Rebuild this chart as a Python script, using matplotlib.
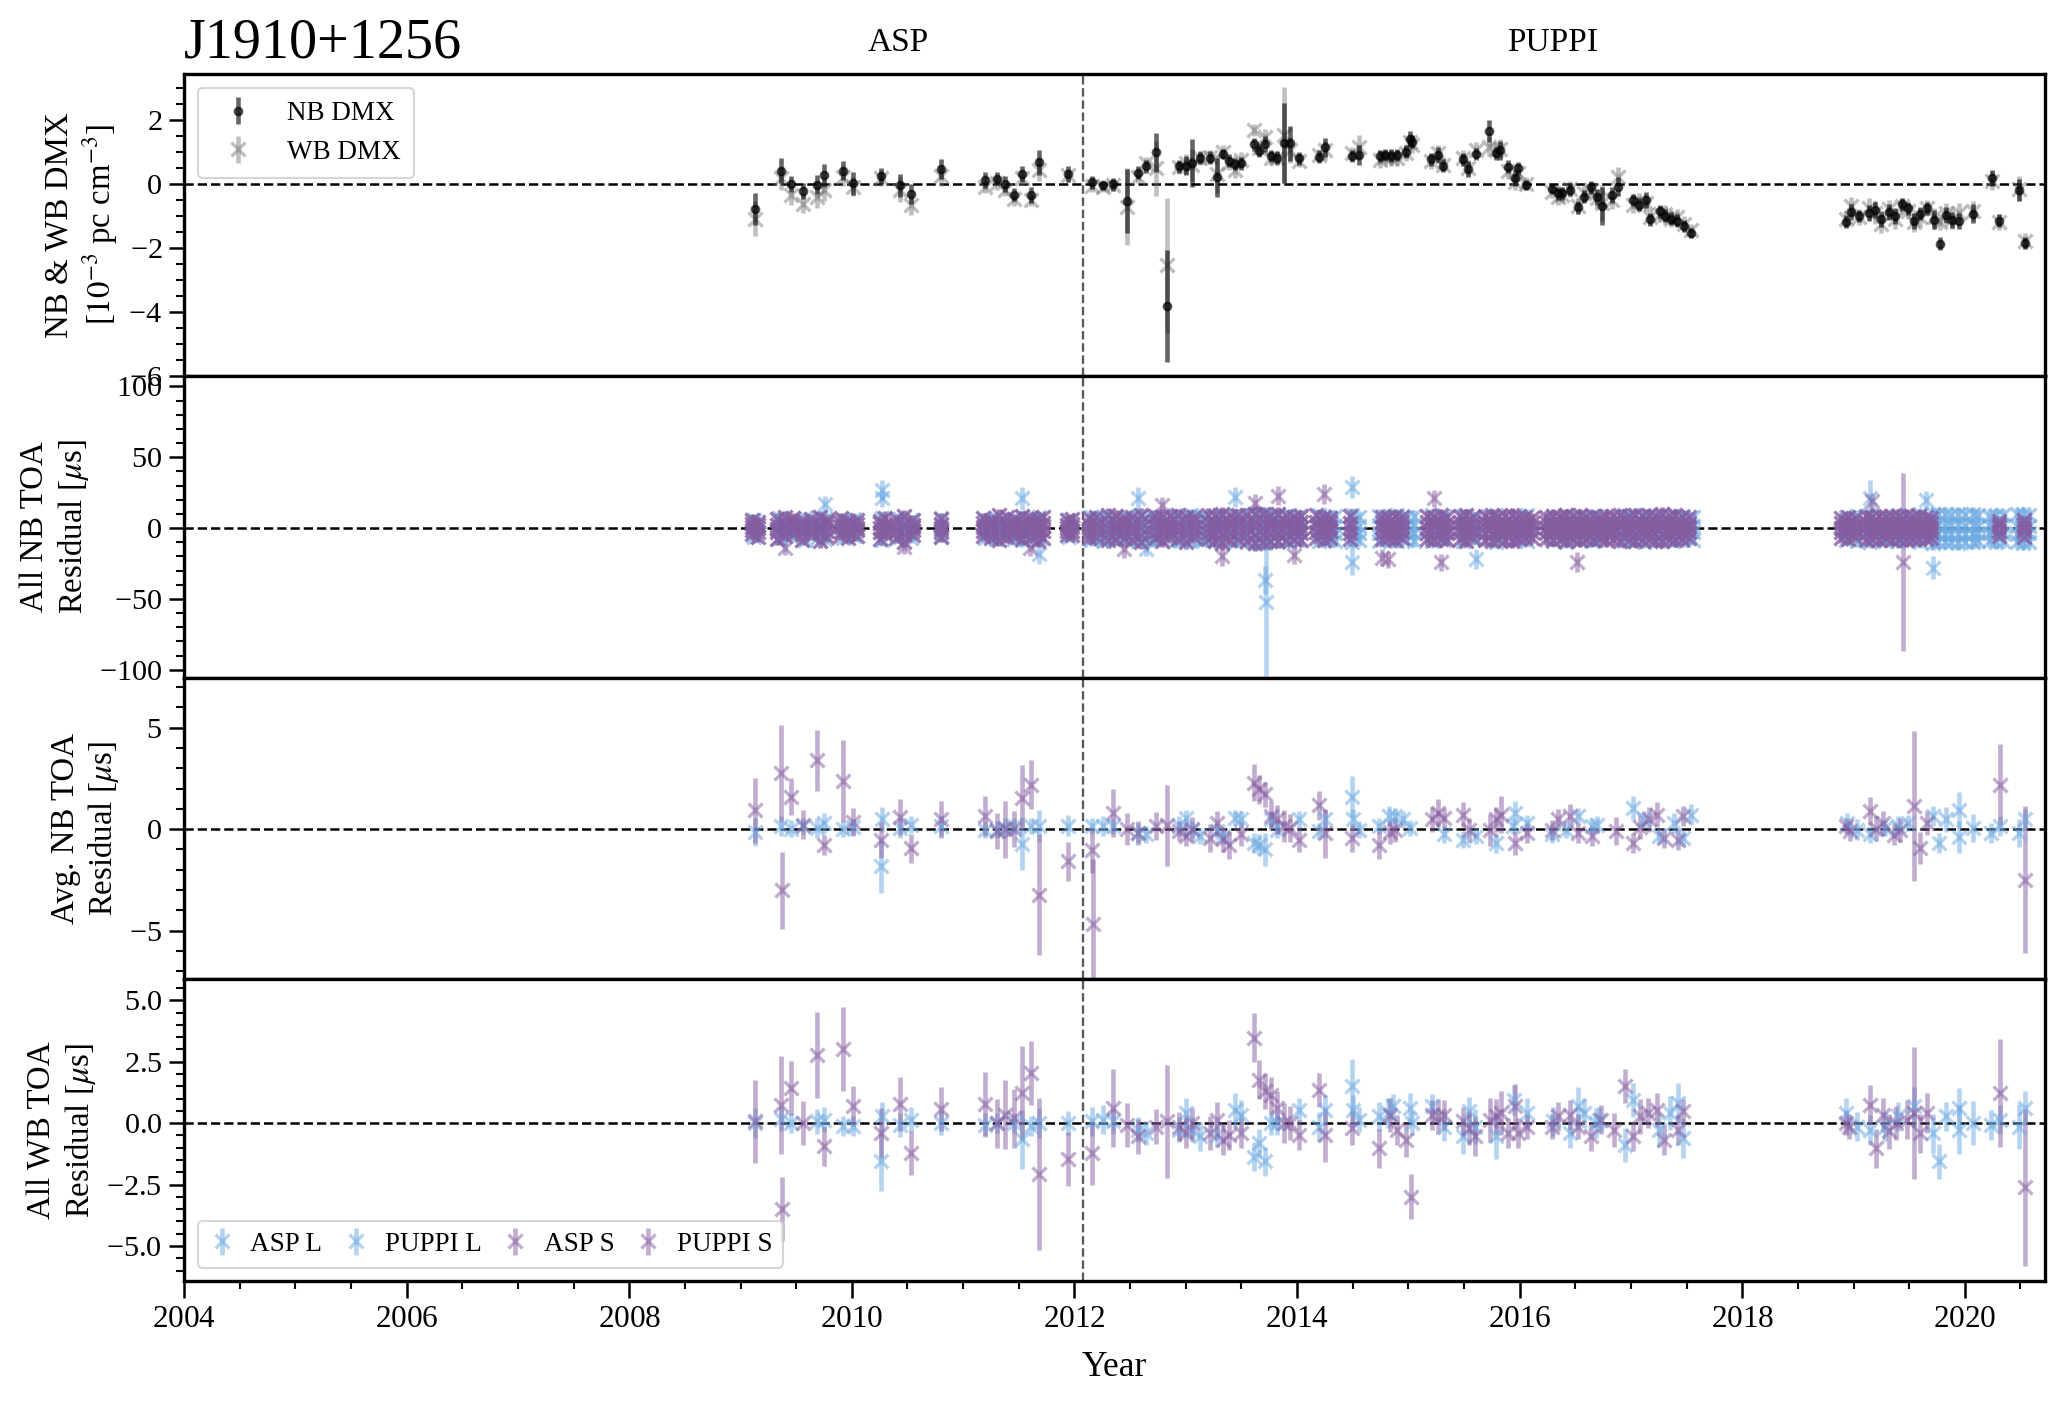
"""
Timing residual summary for J1910+1256: DMX, all NB TOAs, epoch-averaged NB TOAs, WB TOAs.
"""

import numpy as np
import matplotlib
matplotlib.use("Agg")
import matplotlib.pyplot as plt
from matplotlib.ticker import AutoMinorLocator, MultipleLocator

PSR = "J1910+1256"
PUPPI_START = 2012.08   # ASP -> PUPPI switch
L_COLOR = "#6BA9E2"
S_COLOR = "#855CA0"

# ---- DMX (1e-3 pc cm^-3) ----
dmx_yr = [2009.133, 2009.366, 2009.450, 2009.563, 2009.691, 2009.747, 2009.924, 2010.012, 2010.265, 2010.429,
          2010.529, 2010.802, 2011.199, 2011.308, 2011.372, 2011.456, 2011.528, 2011.608, 2011.684, 2011.945,
          2012.162, 2012.254, 2012.346, 2012.475, 2012.571, 2012.643, 2012.731, 2012.828, 2012.944, 2013.004,
          2013.060, 2013.125, 2013.221, 2013.277, 2013.333, 2013.389, 2013.441, 2013.494, 2013.610, 2013.654,
          2013.710, 2013.762, 2013.822, 2013.879, 2013.935, 2014.015, 2014.200, 2014.248, 2014.492, 2014.557,
          2014.746, 2014.790, 2014.842, 2014.899, 2014.978, 2015.013, 2015.031, 2015.206, 2015.263, 2015.316,
          2015.491, 2015.539, 2015.609, 2015.723, 2015.785, 2015.828, 2015.899, 2015.960, 2015.986, 2016.061,
          2016.289, 2016.346, 2016.381, 2016.455, 2016.521, 2016.578, 2016.639, 2016.696, 2016.744, 2016.827,
          2016.880, 2017.016, 2017.077, 2017.134, 2017.169, 2017.257, 2017.310, 2017.362, 2017.415, 2017.476,
          2017.537, 2018.931, 2018.975, 2019.045, 2019.141, 2019.194, 2019.251, 2019.317, 2019.369, 2019.435,
          2019.487, 2019.540, 2019.601, 2019.658, 2019.720, 2019.776, 2019.829, 2019.882, 2019.947, 2020.070,
          2020.245, 2020.311, 2020.491, 2020.539]
dmx_nb = [-0.80, 0.41, -0.01, -0.22, -0.03, 0.26, 0.41, 0.01, 0.24, -0.05,
          -0.32, 0.46, 0.13, 0.16, -0.02, -0.34, 0.30, -0.34, 0.67, 0.32,
          0.04, -0.05, -0.02, -0.55, 0.34, 0.55, 0.98, -3.81, 0.54, 0.56,
          0.64, 0.82, 0.81, 0.20, 0.93, 0.72, 0.62, 0.64, 1.23, 1.03,
          1.24, 0.87, 0.82, 1.26, 1.26, 0.79, 0.85, 1.14, 0.87, 0.90,
          0.87, 0.90, 0.88, 0.90, 1.00, 1.39, 1.32, 0.76, 0.90, 0.57,
          0.76, 0.45, 0.93, 1.65, 0.95, 1.05, 0.53, 0.19, 0.48, -0.04,
          -0.15, -0.30, -0.30, -0.18, -0.74, -0.41, -0.11, -0.41, -0.69, -0.35,
          -0.09, -0.51, -0.65, -0.51, -1.11, -0.86, -1.00, -1.09, -1.16, -1.32,
          -1.53, -1.19, -0.88, -1.01, -0.91, -0.82, -1.09, -0.88, -1.01, -0.64,
          -0.77, -1.16, -0.93, -0.77, -1.12, -1.87, -0.98, -1.14, -1.16, -0.93,
          0.17, -1.16, -0.20, -1.85]
dmx_nb_err = [0.50, 0.40, 0.25, 0.25, 0.30, 0.35, 0.30, 0.35, 0.25, 0.35,
              0.30, 0.30, 0.25, 0.20, 0.25, 0.20, 0.25, 0.25, 0.40, 0.25,
              0.20, 0.15, 0.20, 1.00, 0.20, 0.20, 0.60, 1.75, 0.20, 0.30,
              0.75, 0.20, 0.20, 0.60, 0.15, 0.20, 0.20, 0.20, 0.20, 0.20,
              0.25, 0.20, 0.20, 1.25, 0.55, 0.20, 0.20, 0.30, 0.20, 0.30,
              0.20, 0.20, 0.20, 0.20, 0.20, 0.25, 0.20, 0.20, 0.25, 0.20,
              0.20, 0.25, 0.20, 0.35, 0.20, 0.30, 0.20, 0.25, 0.20, 0.15,
              0.15, 0.20, 0.20, 0.20, 0.20, 0.20, 0.20, 0.25, 0.60, 0.25,
              0.30, 0.20, 0.20, 0.25, 0.20, 0.20, 0.20, 0.20, 0.20, 0.20,
              0.15, 0.20, 0.25, 0.20, 0.25, 0.25, 0.25, 0.25, 0.25, 0.20,
              0.20, 0.25, 0.20, 0.20, 0.30, 0.20, 0.25, 0.25, 0.25, 0.30,
              0.25, 0.20, 0.35, 0.20]
dmx_wb = [-1.09, 0.17, -0.35, -0.62, -0.41, -0.20, 0.22, -0.09, 0.17, -0.18,
          -0.67, 0.24, -0.09, 0.01, -0.18, -0.48, 0.17, -0.51, 0.43, 0.27,
          -0.07, -0.11, -0.04, -0.72, 0.22, 0.64, 0.48, -2.55, 0.51, 0.64,
          0.58, 0.79, 0.85, 0.32, 1.00, 0.64, 0.43, 0.74, 1.68, 1.11,
          1.47, 0.79, 0.79, 1.52, 1.05, 0.72, 0.90, 1.05, 0.95, 1.16,
          0.74, 0.85, 0.80, 0.82, 0.95, 1.30, 1.20, 0.70, 0.95, 0.60,
          0.80, 0.50, 1.05, 1.16, 1.05, 1.10, 0.40, 0.05, 0.35, 0.00,
          -0.25, -0.40, -0.35, -0.15, -0.70, -0.30, -0.20, -0.45, -0.60, -0.50,
          0.22, -0.65, -0.55, -0.60, -1.05, -0.95, -0.95, -1.10, -1.05, -1.25,
          -1.45, -1.10, -0.70, -1.05, -0.75, -0.90, -1.25, -0.80, -1.10, -0.70,
          -0.85, -1.20, -1.05, -0.75, -1.05, -1.20, -0.90, -1.10, -0.90, -0.85,
          0.10, -1.20, -0.15, -1.80]
dmx_wb_err = [0.55, 0.35, 0.30, 0.30, 0.35, 0.35, 0.30, 0.30, 0.25, 0.40,
              0.30, 0.30, 0.20, 0.20, 0.20, 0.20, 0.20, 0.20, 0.35, 0.20,
              0.20, 0.15, 0.20, 1.20, 0.20, 0.20, 0.85, 2.10, 0.20, 0.30,
              0.50, 0.20, 0.20, 0.60, 0.20, 0.20, 0.25, 0.25, 0.20, 0.20,
              0.25, 0.20, 0.20, 1.50, 0.40, 0.20, 0.20, 0.30, 0.20, 0.35,
              0.25, 0.20, 0.25, 0.25, 0.25, 0.25, 0.25, 0.25, 0.25, 0.20,
              0.25, 0.25, 0.25, 0.30, 0.25, 0.30, 0.25, 0.25, 0.25, 0.20,
              0.20, 0.25, 0.25, 0.25, 0.25, 0.25, 0.25, 0.30, 0.55, 0.30,
              0.30, 0.25, 0.25, 0.25, 0.25, 0.25, 0.30, 0.25, 0.25, 0.25,
              0.20, 0.25, 0.30, 0.25, 0.30, 0.35, 0.30, 0.30, 0.30, 0.25,
              0.25, 0.30, 0.30, 0.25, 0.30, 0.25, 0.30, 0.30, 0.30, 0.30,
              0.30, 0.25, 0.40, 0.25]

# ---- All NB TOA residuals (us): one row of residuals per observing epoch ----
nb_s_yr = [2009.10, 2009.16, 2009.33, 2009.40, 2009.47, 2009.55, 2009.63, 2009.71, 2009.78, 2009.90,
           2009.97, 2010.05, 2010.25, 2010.30, 2010.40, 2010.47, 2010.55, 2010.80, 2011.18, 2011.25,
           2011.32, 2011.39, 2011.46, 2011.53, 2011.60, 2011.67, 2011.72, 2011.93, 2011.98, 2012.13,
           2012.19, 2012.30, 2012.37, 2012.45, 2012.52, 2012.60, 2012.72, 2012.79, 2012.86, 2012.93,
           2013.00, 2013.07, 2013.20, 2013.26, 2013.33, 2013.40, 2013.47, 2013.55, 2013.62, 2013.69,
           2013.76, 2013.83, 2013.90, 2013.97, 2014.04, 2014.17, 2014.24, 2014.30, 2014.48, 2014.76,
           2014.82, 2014.88, 2014.94, 2015.17, 2015.23, 2015.29, 2015.35, 2015.46, 2015.52, 2015.58,
           2015.69, 2015.75, 2015.81, 2015.87, 2015.93, 2015.99, 2016.05, 2016.11, 2016.24, 2016.30,
           2016.36, 2016.42, 2016.48, 2016.54, 2016.60, 2016.66, 2016.72, 2016.78, 2016.84, 2016.90,
           2016.98, 2017.04, 2017.10, 2017.16, 2017.22, 2017.28, 2017.34, 2017.40, 2017.46, 2017.52,
           2018.89, 2018.95, 2019.01, 2019.11, 2019.17, 2019.23, 2019.29, 2019.35, 2019.41, 2019.47,
           2019.53, 2019.59, 2019.65, 2019.70, 2020.31, 2020.53]
nb_s_rows = [
    [-4.2, -1.5, 0.6, 2.9, 5.8], [-6.3, -2.8, 0.2, 1.9, 4.4], [-7.5, -3.1, -0.4, 2.2, 6.1], [-5.4, -1.2, 1.3, 3.8, 8.0],
    [-3.9, -0.8, 0.9, 4.6, 7.2], [-8.1, -4.0, -1.1, 2.5, 5.1], [-5.0, -2.2, 0.3, 3.1, 6.6], [-9.2, -3.6, 0.1, 2.7, 7.9],
    [-6.0, -1.9, 1.5, 4.0, 5.7], [-4.8, -2.6, 0.7, 3.3, 6.8], [-7.0, -3.4, -0.6, 1.8, 4.9], [-5.6, -1.1, 0.4, 2.6, 6.0],
    [-7.8, -2.9, 0.0, 3.5, 5.3], [-4.5, -1.7, 1.1, 2.4, 7.4], [-6.7, -3.0, -0.3, 2.8, 6.3], [-9.6, -4.3, 0.5, 3.6, 8.8],
    [-5.2, -1.4, 0.8, 2.1, 5.5], [-6.1, -2.5, 0.2, 3.0, 6.4], [-5.9, -2.0, 1.0, 3.9, 6.9], [-7.3, -3.3, -0.2, 2.3, 5.6],
    [-8.4, -4.1, 0.6, 4.4, 9.1], [-6.5, -1.6, 1.4, 3.2, 7.7], [-5.3, -2.7, 0.1, 2.9, 6.2], [-7.9, -3.8, -0.5, 3.4, 8.3],
    [-6.2, -2.1, 0.9, 4.1, 7.0], [-9.0, -3.5, 0.3, 2.6, 6.7], [-6.8, -2.4, 1.2, 3.7, 7.5], [-5.1, -1.8, 0.4, 2.2, 5.4],
    [-4.6, -2.0, 0.7, 3.0, 6.1], [-7.2, -3.2, -0.1, 2.7, 6.8], [-6.4, -2.3, 0.9, 3.6, 7.9], [-8.7, -4.4, 0.2, 4.5, 9.4],
    [-7.6, -3.0, 0.6, 3.3, 8.6], [-6.9, -2.6, 1.0, 4.2, 7.3], [-8.2, -3.7, -0.3, 3.1, 8.0], [-9.5, -4.6, 0.0, 4.0, 9.0],
    [-7.1, -2.8, 1.3, 4.7, 8.5], [-8.9, -3.9, 0.4, 3.8, 7.6], [-6.6, -3.1, 0.8, 4.3, 8.8], [-7.4, -2.2, 1.1, 3.5, 9.2],
    [-9.8, -4.2, -0.4, 3.9, 7.8], [-6.3, -2.5, 0.5, 4.8, 8.1], [-8.0, -3.6, 0.2, 4.1, 9.5], [-9.1, -4.0, 0.7, 3.4, 8.4],
    [-10.2, -4.8, -0.2, 4.6, 9.7], [-8.6, -3.3, 0.9, 4.4, 8.7], [-7.7, -2.9, 1.4, 5.0, 9.3], [-9.4, -4.5, 0.1, 3.7, 8.9],
    [-10.5, -5.0, 0.6, 5.2, 10.1], [-9.9, -4.1, 0.3, 4.9, 9.6], [-8.8, -3.7, 1.0, 4.3, 8.2], [-9.3, -4.3, -0.1, 4.0, 9.9],
    [-8.1, -3.4, 0.8, 4.5, 8.6], [-7.5, -3.0, 0.4, 3.9, 7.7], [-8.5, -3.8, 0.0, 4.2, 8.3], [-7.0, -2.7, 1.2, 4.6, 9.0],
    [-8.3, -3.5, 0.5, 3.6, 8.1], [-6.9, -2.4, 0.9, 4.1, 7.4], [-7.8, -3.2, 0.2, 3.8, 8.7], [-8.0, -3.6, 0.6, 4.4, 8.0],
    [-7.2, -2.9, 1.0, 3.7, 7.6], [-8.6, -4.0, -0.3, 3.5, 8.4], [-6.8, -2.6, 0.7, 4.0, 7.9], [-7.9, -3.3, 0.3, 4.3, 8.5],
    [-8.7, -3.9, 0.8, 3.9, 7.8], [-7.4, -2.8, 1.1, 4.7, 8.9], [-8.2, -3.4, 0.0, 3.6, 7.5], [-7.6, -3.1, 0.5, 4.1, 8.2],
    [-8.9, -4.2, 0.9, 4.5, 9.1], [-7.1, -2.5, 0.2, 3.8, 7.7], [-8.4, -3.7, 0.6, 4.2, 8.6], [-9.0, -4.1, 1.0, 4.8, 9.3],
    [-7.7, -3.0, 0.1, 3.9, 8.0], [-8.5, -3.6, 0.7, 4.4, 8.8], [-9.2, -4.4, 0.4, 4.0, 9.5], [-8.0, -3.2, 0.9, 4.6, 8.3],
    [-7.3, -2.7, 0.3, 3.7, 7.6], [-6.9, -2.9, 0.6, 3.4, 7.2], [-7.8, -3.3, 0.2, 4.0, 8.1], [-8.3, -3.8, 0.8, 4.3, 8.7],
    [-7.5, -3.0, 0.4, 3.9, 7.9], [-8.8, -4.0, 1.0, 4.7, 9.0], [-7.9, -3.5, 0.0, 4.1, 8.4], [-8.6, -3.9, 0.7, 4.5, 8.9],
    [-7.4, -2.8, 0.5, 3.6, 7.8], [-8.1, -3.4, 0.9, 4.2, 8.5], [-7.0, -2.6, 0.3, 3.8, 7.4], [-8.7, -4.1, 0.6, 4.4, 8.8],
    [-7.6, -3.1, 0.1, 4.0, 8.2], [-8.9, -4.3, 0.8, 4.9, 9.2], [-8.2, -3.6, 0.4, 4.3, 8.6], [-9.1, -4.0, 0.9, 4.6, 9.4],
    [-8.4, -3.7, 0.2, 4.1, 8.7], [-7.7, -3.2, 0.7, 4.5, 9.0], [-8.8, -3.9, 0.5, 4.2, 8.3], [-9.3, -4.2, 1.1, 4.8, 9.6],
    [-8.0, -3.5, 0.3, 4.0, 8.5], [-8.6, -3.8, 0.8, 4.4, 8.9], [-7.9, -3.3, 0.4, 3.9, 8.1], [-7.2, -2.9, 0.6, 3.6, 7.5],
    [-6.8, -2.5, 0.4, 3.3, 7.0], [-7.5, -3.0, 0.7, 3.8, 7.6], [-6.4, -2.7, 0.2, 3.4, 6.9], [-8.1, -3.6, 0.9, 4.2, 8.4],
    [-7.7, -3.2, 0.3, 3.9, 7.9], [-8.5, -3.8, 0.6, 4.4, 8.7], [-7.3, -2.9, 0.1, 3.7, 7.8], [-8.3, -3.5, 0.8, 4.1, 8.2],
    [-7.9, -3.4, 0.5, 4.0, 8.6], [-8.7, -4.0, 0.2, 4.5, 8.9], [-7.6, -3.1, 0.7, 3.8, 8.0], [-8.0, -3.3, 0.4, 4.2, 8.3],
    [-7.4, -3.0, 0.9, 3.6, 7.7], [-6.9, -2.6, 0.3, 3.3, 7.1], [-5.8, -2.1, 0.5, 2.8, 4.9], [-6.2, -2.4, 0.1, 3.0, 5.5],
]
nb_s_err = [4.0, 3.5, 4.5, 4.0, 3.5, 4.0, 3.5, 4.5, 4.0, 3.5,
            4.0, 3.5, 4.0, 4.5, 3.5, 4.0, 3.5, 4.0, 3.5, 4.0,
            4.5, 4.0, 3.5, 4.0, 4.5, 4.0, 3.5, 3.5, 4.0, 4.0,
            4.5, 5.0, 4.5, 4.0, 4.5, 5.0, 4.5, 4.5, 4.0, 4.5,
            5.0, 4.5, 5.0, 4.5, 5.5, 5.0, 4.5, 5.0, 5.5, 5.0,
            4.5, 5.0, 4.5, 4.0, 4.5, 4.0, 4.5, 4.0, 4.5, 4.5,
            4.0, 4.5, 4.0, 4.5, 4.0, 4.5, 4.0, 4.5, 4.5, 4.0,
            4.5, 4.5, 4.0, 4.5, 4.5, 4.0, 4.0, 3.5, 4.0, 4.5,
            4.0, 4.5, 4.0, 4.5, 4.0, 4.5, 4.0, 4.5, 4.0, 4.5,
            4.5, 4.5, 4.0, 4.5, 4.5, 5.0, 4.0, 4.5, 4.0, 4.0,
            3.5, 4.0, 3.5, 4.5, 4.0, 4.5, 4.0, 4.5, 4.0, 4.5,
            4.0, 4.5, 4.0, 3.5, 3.5, 3.5]

nb_l_yr = [2009.12, 2009.35, 2009.45, 2009.58, 2009.70, 2009.76, 2009.92, 2010.02, 2010.27, 2010.43,
           2010.53, 2010.80, 2011.20, 2011.30, 2011.38, 2011.46, 2011.53, 2011.61, 2011.68, 2011.95,
           2012.15, 2012.22, 2012.27, 2012.35, 2012.47, 2012.57, 2012.64, 2012.70, 2012.78, 2012.90,
           2012.96, 2013.05, 2013.13, 2013.17, 2013.26, 2013.33, 2013.44, 2013.50, 2013.61, 2013.65,
           2013.71, 2013.76, 2013.82, 2013.93, 2014.02, 2014.20, 2014.27, 2014.34, 2014.49, 2014.56,
           2014.74, 2014.83, 2014.90, 2014.98, 2015.05, 2015.21, 2015.32, 2015.49, 2015.61, 2015.79,
           2015.95, 2016.07, 2016.30, 2016.42, 2016.53, 2016.65, 2016.69, 2016.94, 2017.02, 2017.12,
           2017.25, 2017.38, 2017.47, 2017.56, 2018.93, 2019.03, 2019.15, 2019.28, 2019.40, 2019.49,
           2019.60, 2019.71, 2019.76, 2019.82, 2019.88, 2019.94, 2020.00, 2020.07, 2020.12, 2020.22,
           2020.28, 2020.34, 2020.47, 2020.52, 2020.58]
nb_l_rows = [
    [-6.5, -2.1, 1.8, 5.9], [-7.2, -1.4, 2.6, 6.8], [-5.8, -2.7, 1.1, 4.9], [-8.1, -3.0, 2.2, 7.4], [-6.0, -1.8, 2.9, 7.7],
    [-7.6, -2.4, 1.5, 6.2], [-6.8, -1.2, 2.4, 5.5], [-5.4, -2.2, 1.9, 6.6], [-8.4, -3.1, 1.0, 7.1], [-6.3, -1.6, 2.7, 6.4],
    [-7.0, -2.9, 1.3, 5.8], [-5.9, -1.5, 2.1, 6.9], [-6.7, -2.3, 1.6, 5.7], [-7.8, -2.6, 2.5, 7.3], [-6.1, -1.9, 1.2, 6.0],
    [-7.4, -3.2, 2.0, 6.7], [-8.6, -2.8, 1.4, 7.9], [-6.4, -1.7, 2.8, 6.3], [-7.9, -3.3, 1.7, 7.6], [-6.2, -2.0, 1.8, 5.9],
    [-8.3, -3.4, 2.3, 8.1], [-7.1, -2.5, 1.1, 6.8], [-8.8, -3.0, 2.6, 7.7], [-7.5, -2.2, 1.9, 7.0], [-8.0, -3.6, 1.5, 8.4],
    [-9.1, -3.1, 2.4, 8.0], [-7.7, -2.7, 1.2, 7.2], [-8.5, -3.5, 2.7, 8.6], [-7.3, -2.4, 1.6, 7.5], [-9.4, -3.8, 2.1, 8.9],
    [-8.2, -2.9, 1.3, 7.8], [-9.0, -3.7, 2.9, 9.1], [-8.7, -3.2, 1.8, 8.2], [-7.9, -2.6, 2.2, 7.4], [-9.3, -3.9, 1.4, 8.8],
    [-8.4, -3.3, 2.5, 8.5], [-9.6, -4.0, 1.9, 9.3], [-8.1, -2.8, 1.1, 7.9], [-10.2, -4.2, 2.3, 9.6], [-9.7, -3.6, 1.7, 9.0],
    [-10.5, -4.5, 2.8, 10.0], [-9.2, -3.4, 1.5, 8.7], [-8.8, -3.1, 2.0, 8.3], [-9.5, -3.7, 1.6, 9.2], [-8.6, -3.0, 2.4, 8.6],
    [-9.1, -3.5, 1.3, 8.9], [-8.3, -2.9, 2.1, 8.1], [-8.9, -3.2, 1.8, 8.4], [-9.8, -3.9, 2.6, 9.4], [-8.5, -3.3, 1.2, 8.0],
    [-9.0, -3.6, 2.2, 8.7], [-8.7, -3.1, 1.6, 8.5], [-9.3, -3.8, 2.5, 9.0], [-8.2, -2.7, 1.4, 7.8], [-8.9, -3.4, 2.0, 8.6],
    [-9.4, -3.7, 1.7, 9.1], [-8.6, -3.2, 2.3, 8.3], [-9.2, -3.5, 1.1, 8.8], [-8.0, -2.9, 2.7, 8.2], [-9.6, -4.0, 1.9, 9.3],
    [-8.4, -3.0, 1.5, 8.0], [-9.1, -3.6, 2.4, 8.9], [-8.8, -3.3, 1.8, 8.5], [-9.5, -3.9, 2.1, 9.2], [-8.3, -3.1, 1.3, 8.1],
    [-9.0, -3.4, 2.6, 8.7], [-8.6, -3.2, 1.6, 8.4], [-9.3, -3.8, 2.2, 9.0], [-8.9, -3.5, 1.7, 8.6], [-9.7, -4.1, 2.5, 9.5],
    [-8.5, -3.0, 1.4, 8.2], [-9.2, -3.6, 2.0, 8.8], [-8.7, -3.3, 1.9, 8.5], [-8.1, -2.8, 1.5, 7.7], [-8.4, -3.0, 2.1, 8.0],
    [-9.0, -3.5, 1.6, 8.6], [-9.6, -3.9, 2.4, 9.2], [-8.8, -3.2, 1.2, 8.4], [-9.3, -3.7, 2.7, 9.0], [-8.6, -3.1, 1.8, 8.3],
    [-9.9, -4.2, 2.3, 9.7], [-10.4, -4.4, 1.9, 10.2], [-9.5, -3.8, 2.6, 9.6], [-10.1, -4.0, 1.5, 9.9], [-9.7, -3.9, 2.2, 9.4],
    [-10.3, -4.3, 2.8, 10.1], [-9.8, -4.1, 1.7, 9.5], [-10.0, -3.6, 2.1, 9.8], [-9.4, -3.5, 1.4, 9.1], [-8.9, -3.3, 2.0, 8.7],
    [-9.6, -3.7, 1.6, 9.3], [-9.2, -3.4, 2.4, 8.9], [-9.9, -4.0, 1.8, 9.6], [-10.2, -4.2, 2.5, 10.0], [-9.5, -3.8, 1.3, 9.2],
]
nb_l_err = [4.0, 4.5, 3.5, 4.0, 4.5, 4.0, 3.5, 4.0, 4.5, 4.0,
            3.5, 4.0, 3.5, 4.0, 4.0, 3.5, 4.5, 4.0, 4.5, 3.5,
            4.0, 4.5, 4.0, 4.5, 4.0, 4.5, 4.0, 4.5, 4.0, 4.5,
            4.0, 4.5, 4.0, 4.0, 4.5, 4.0, 4.5, 4.0, 5.0, 4.5,
            5.0, 4.5, 4.0, 4.5, 4.0, 4.5, 4.0, 4.5, 5.0, 4.0,
            4.5, 4.0, 4.5, 4.0, 4.5, 4.5, 4.0, 4.5, 4.0, 4.5,
            4.0, 4.5, 4.0, 4.5, 4.0, 4.5, 4.0, 4.5, 4.5, 4.0,
            4.5, 4.0, 4.5, 4.0, 4.0, 4.5, 4.5, 4.0, 4.5, 4.0,
            4.5, 5.0, 4.5, 5.0, 4.5, 5.0, 4.5, 5.0, 4.5, 4.5,
            5.0, 4.5, 4.5, 5.0, 4.5]

# isolated large residuals in the all-NB panel
nb_l_out_yr = [2009.76, 2010.27, 2010.27, 2011.53, 2011.68, 2012.57, 2012.64, 2013.44, 2013.71, 2013.72,
               2014.49, 2014.49, 2015.61, 2019.15, 2019.71, 2019.65]
nb_l_out = [17.0, 27.0, 21.0, 21.0, -18.0, 21.0, -15.0, 22.0, -36.5, -52.5,
            29.0, -24.0, -22.0, 21.0, -28.0, 20.0]
nb_l_out_err = [6.0, 7.0, 6.0, 8.0, 7.0, 8.0, 5.0, 7.0, 10.0, 52.0,
                8.0, 9.0, 7.0, 13.0, 8.0, 6.0]
nb_s_out_yr = [2009.40, 2010.47, 2011.60, 2012.45, 2012.79, 2013.33, 2013.62, 2013.83, 2013.97, 2014.24,
               2014.76, 2014.82, 2015.23, 2015.29, 2016.52, 2019.44, 2019.17]
nb_s_out = [-14.0, -13.0, -14.0, -15.0, 16.0, -20.0, 18.0, 23.0, -19.0, 24.0,
            -21.0, -22.0, 21.0, -24.0, -24.0, -24.0, 19.0]
nb_s_out_err = [5.0, 5.0, 6.0, 6.0, 6.0, 7.0, 6.0, 7.0, 6.0, 7.0,
                6.0, 6.0, 6.0, 6.0, 7.0, 63.0, 6.0]

# ---- Epoch-averaged NB TOA residuals (us) ----
avg_s_yr = [2009.133, 2009.360, 2009.370, 2009.450, 2009.563, 2009.691, 2009.747, 2009.924, 2010.012, 2010.265,
            2010.429, 2010.529, 2010.802, 2011.199, 2011.308, 2011.372, 2011.456, 2011.528, 2011.608, 2011.684,
            2011.945, 2012.160, 2012.170, 2012.346, 2012.475, 2012.571, 2012.731, 2012.828, 2012.944, 2013.004,
            2013.060, 2013.221, 2013.277, 2013.333, 2013.389, 2013.494, 2013.610, 2013.654, 2013.710, 2013.762,
            2013.822, 2013.879, 2013.935, 2014.015, 2014.200, 2014.248, 2014.492, 2014.737, 2014.839, 2014.878,
            2015.210, 2015.268, 2015.319, 2015.490, 2015.541, 2015.736, 2015.786, 2015.833, 2015.958, 2016.067,
            2016.293, 2016.348, 2016.457, 2016.527, 2016.652, 2016.866, 2017.022, 2017.080, 2017.158, 2017.236,
            2017.295, 2017.423, 2017.470, 2018.931, 2018.970, 2019.146, 2019.204, 2019.263, 2019.360, 2019.418,
            2019.543, 2019.594, 2019.660, 2020.315, 2020.537]
avg_s = [0.94, 2.75, -3.00, 1.60, 0.23, 3.39, -0.79, 2.37, 0.35, -0.54,
         0.59, -0.95, 0.48, 0.64, -0.10, 0.00, 0.00, 1.55, 2.20, -3.22,
         -1.58, -1.04, -4.65, 0.80, 0.00, -0.20, 0.15, 0.20, -0.10, -0.35,
         0.00, -0.43, 0.28, -0.50, -0.79, -0.23, 2.29, 1.96, 1.71, 0.67,
         0.48, 0.15, 0.07, -0.51, 1.17, -0.21, -0.43, -0.79, -0.13, -0.05,
         0.48, 0.80, 0.56, 0.72, -0.05, -0.05, 0.48, 0.72, -0.67, -0.20,
         -0.05, 0.48, 0.64, -0.18, -0.35, -0.10, -0.67, 0.12, 0.48, 0.72,
         -0.43, -0.51, 0.64, 0.15, -0.10, 0.90, 0.03, 0.28, -0.30, -0.05,
         1.13, -0.92, 0.31, 2.20, -2.48]
avg_s_err = [1.6, 2.4, 1.9, 0.9, 0.7, 1.5, 0.5, 2.0, 0.7, 0.9,
             0.9, 0.7, 0.9, 1.0, 0.9, 1.4, 0.9, 1.6, 1.2, 3.0,
             0.95, 1.1, 3.2, 1.2, 0.8, 0.6, 0.7, 2.0, 0.5, 0.5,
             0.6, 0.7, 0.6, 0.6, 0.7, 0.6, 0.9, 0.7, 0.6, 0.7,
             0.7, 0.8, 0.7, 0.6, 0.7, 1.2, 0.7, 0.7, 0.6, 0.6,
             0.6, 0.7, 0.5, 0.6, 0.6, 0.8, 0.6, 0.9, 0.6, 0.5,
             0.5, 0.5, 0.6, 0.5, 0.5, 0.7, 0.5, 0.6, 0.6, 0.6,
             0.5, 0.5, 0.5, 0.4, 0.5, 0.7, 0.6, 0.6, 0.5, 0.6,
             3.7, 0.8, 0.6, 2.0, 3.6]

avg_l_yr = [2009.133, 2009.366, 2009.450, 2009.563, 2009.691, 2009.747, 2009.924, 2010.012, 2010.265, 2010.270,
            2010.429, 2010.529, 2010.802, 2011.199, 2011.308, 2011.372, 2011.456, 2011.528, 2011.608, 2011.684,
            2011.945, 2012.162, 2012.254, 2012.346, 2012.571, 2012.643, 2012.944, 2013.004, 2013.060, 2013.125,
            2013.277, 2013.333, 2013.441, 2013.494, 2013.610, 2013.654, 2013.710, 2013.762, 2013.822, 2014.015,
            2014.200, 2014.248, 2014.492, 2014.500, 2014.557, 2014.737, 2014.830, 2014.878, 2014.956, 2015.015,
            2015.319, 2015.490, 2015.607, 2015.786, 2015.938, 2015.960, 2016.067, 2016.293, 2016.418, 2016.527,
            2016.652, 2016.691, 2017.022, 2017.119, 2017.251, 2017.383, 2017.470, 2017.540, 2018.944, 2019.029,
            2019.146, 2019.282, 2019.399, 2019.489, 2019.711, 2019.769, 2019.828, 2019.945, 2019.950, 2020.073,
            2020.237, 2020.315, 2020.490, 2020.537]
avg_l = [-0.15, 0.15, 0.03, 0.15, 0.07, 0.30, 0.02, 0.12, -1.83, 0.48,
         0.07, 0.23, 0.15, -0.02, -0.02, 0.07, 0.15, -0.71, 0.15, 0.15,
         0.18, 0.15, 0.15, 0.15, -0.18, -0.26, 0.15, 0.56, -0.02, -0.35,
         -0.10, -0.35, 0.56, 0.48, -0.67, -0.76, -1.00, 0.48, -0.02, 0.48,
         -0.10, 0.48, 1.60, 0.48, -0.02, 0.15, 0.64, 0.64, 0.48, 0.07,
         -0.26, -0.51, -0.35, -0.67, 0.15, 0.80, 0.31, -0.26, -0.02, 0.64,
         0.15, 0.23, 1.05, 0.48, -0.35, 0.31, -0.43, 0.72, 0.31, -0.02,
         -0.26, 0.07, 0.15, 0.31, 0.64, -0.67, 0.48, 0.94, -0.38, 0.07,
         -0.18, 0.15, -0.18, 0.48]
avg_l_err = [0.7, 0.5, 0.4, 0.4, 0.5, 0.5, 0.4, 0.4, 1.3, 0.6,
             0.5, 0.4, 0.5, 0.4, 0.4, 0.5, 0.4, 1.3, 0.4, 0.8,
             0.5, 0.4, 0.5, 0.4, 0.5, 0.4, 0.5, 0.4, 0.4, 0.4,
             0.4, 0.4, 0.4, 0.4, 0.5, 0.5, 0.8, 0.4, 0.4, 0.4,
             0.4, 0.4, 1.0, 0.5, 0.4, 0.4, 0.5, 0.4, 0.4, 0.4,
             0.4, 0.4, 0.4, 0.5, 0.4, 0.6, 0.4, 0.4, 0.4, 0.4,
             0.4, 0.4, 0.6, 0.4, 0.4, 0.5, 0.4, 0.5, 0.5, 0.5,
             0.4, 0.4, 0.5, 0.4, 0.5, 0.5, 0.6, 0.9, 0.8, 0.7,
             0.5, 0.5, 0.7, 0.5]

# ---- WB TOA residuals (us) ----
wb_s_yr = [2009.133, 2009.366, 2009.370, 2009.450, 2009.563, 2009.691, 2009.747, 2009.924, 2010.012, 2010.265,
           2010.429, 2010.529, 2010.802, 2011.199, 2011.308, 2011.372, 2011.456, 2011.528, 2011.608, 2011.684,
           2011.945, 2012.162, 2012.346, 2012.475, 2012.571, 2012.731, 2012.828, 2012.944, 2013.004, 2013.060,
           2013.221, 2013.277, 2013.333, 2013.389, 2013.494, 2013.610, 2013.654, 2013.710, 2013.762, 2013.822,
           2013.879, 2013.935, 2014.015, 2014.200, 2014.248, 2014.492, 2014.737, 2014.839, 2014.898, 2014.976,
           2015.023, 2015.210, 2015.268, 2015.319, 2015.490, 2015.541, 2015.599, 2015.736, 2015.786, 2015.833,
           2015.892, 2015.958, 2015.981, 2016.067, 2016.293, 2016.348, 2016.457, 2016.527, 2016.644, 2016.730,
           2016.846, 2016.944, 2017.022, 2017.080, 2017.150, 2017.236, 2017.295, 2017.423, 2017.470, 2018.931,
           2018.958, 2019.146, 2019.204, 2019.263, 2019.322, 2019.380, 2019.479, 2019.543, 2019.594, 2019.660,
           2020.315, 2020.537]
wb_s = [0.07, 0.75, -3.51, 1.43, 0.00, 2.79, -0.95, 3.02, 0.70, -0.40,
        0.79, -1.22, 0.57, 0.79, 0.00, 0.34, 0.20, 1.22, 2.04, -2.07,
        -1.47, -1.22, 0.61, -0.07, -0.54, -0.14, 0.07, -0.14, -0.41, 0.00,
        -0.41, 0.14, -0.68, -0.48, -0.41, 3.47, 1.77, 1.29, 1.16, 0.61,
        0.00, 0.00, -0.48, 1.36, -0.48, -0.20, -1.02, 0.34, -0.27, -0.68,
        -2.99, 0.34, 0.27, 0.34, 0.07, -0.20, -0.54, 0.14, 0.27, 0.41,
        -0.41, 0.68, -0.41, -0.14, -0.14, 0.27, 0.34, -0.14, -0.54, 0.14,
        -0.27, 1.50, -0.54, 0.27, 0.41, 0.54, -0.68, -0.27, 0.48, 0.00,
        -0.14, 0.75, -1.02, 0.34, -0.34, 0.00, 0.14, 0.41, -0.41, 0.41,
        1.22, -2.61]
wb_s_err = [1.7, 2.0, 1.3, 1.1, 0.9, 1.75, 0.8, 1.7, 0.8, 1.0,
            1.1, 0.9, 0.9, 1.3, 1.0, 1.4, 1.2, 1.9, 1.3, 3.1,
            1.1, 1.3, 1.6, 0.9, 0.7, 0.7, 2.3, 0.6, 0.6, 0.6,
            0.7, 0.7, 0.6, 0.6, 0.6, 1.0, 0.8, 0.7, 0.7, 0.7,
            0.8, 0.7, 0.6, 0.7, 1.1, 0.7, 0.8, 0.7, 0.6, 0.7,
            0.9, 0.6, 0.7, 0.6, 0.6, 0.7, 0.8, 0.9, 0.7, 0.9,
            0.6, 0.9, 0.6, 0.5, 0.5, 0.6, 0.6, 0.5, 0.6, 0.6,
            0.7, 0.7, 0.6, 0.7, 0.6, 0.7, 0.6, 0.6, 0.5, 0.5,
            0.5, 0.8, 0.8, 0.7, 0.7, 0.7, 0.8, 2.7, 0.8, 0.8,
            2.2, 3.2]

wb_l_yr = [2009.133, 2009.366, 2009.450, 2009.691, 2009.747, 2009.924, 2010.012, 2010.265, 2010.270, 2010.429,
           2010.529, 2010.802, 2011.199, 2011.308, 2011.456, 2011.528, 2011.608, 2011.684, 2011.945, 2012.162,
           2012.254, 2012.346, 2012.571, 2012.643, 2012.944, 2013.004, 2013.060, 2013.125, 2013.277, 2013.441,
           2013.494, 2013.610, 2013.654, 2013.710, 2013.762, 2013.822, 2014.015, 2014.200, 2014.248, 2014.492,
           2014.500, 2014.557, 2014.737, 2014.820, 2014.859, 2015.015, 2015.030, 2015.210, 2015.319, 2015.490,
           2015.541, 2015.599, 2015.786, 2015.950, 2016.067, 2016.301, 2016.457, 2016.527, 2016.574, 2016.683,
           2016.710, 2016.944, 2017.022, 2017.256, 2017.353, 2017.423, 2017.470, 2018.931, 2019.029, 2019.146,
           2019.282, 2019.399, 2019.543, 2019.711, 2019.769, 2019.828, 2019.945, 2019.950, 2020.073, 2020.237,
           2020.315, 2020.490, 2020.537]
wb_l = [0.00, 0.16, 0.00, 0.07, 0.14, -0.11, -0.11, -1.56, 0.27, -0.07,
        0.14, 0.00, -0.07, 0.00, 0.00, -0.65, -0.11, 0.00, 0.00, 0.07,
        0.14, 0.07, -0.27, -0.41, -0.27, 0.41, -0.27, -0.54, -0.48, 0.54,
        0.34, -1.36, -0.82, -1.56, 0.00, 0.00, 0.54, -0.14, 0.54, 1.52,
        0.54, 0.14, 0.27, 0.41, 0.68, 0.61, 0.00, 0.68, -0.14, -0.54,
        0.48, -0.14, -0.54, 0.95, 0.41, 0.07, -0.41, 0.68, 0.41, 0.00,
        0.14, -0.88, 0.95, -0.27, 0.41, 0.82, -0.61, 0.41, -0.14, -0.27,
        -0.14, 0.27, 0.68, -0.41, -1.56, 0.27, 0.61, -0.27, 0.00, -0.07,
        0.14, -0.14, 0.61]
wb_l_err = [0.6, 0.5, 0.4, 0.5, 0.5, 0.4, 0.4, 1.2, 0.6, 0.5,
            0.5, 0.5, 0.5, 0.4, 0.4, 1.2, 0.4, 0.6, 0.5, 0.6,
            0.6, 0.5, 0.5, 0.5, 0.5, 0.6, 0.5, 0.6, 0.5, 0.7,
            0.6, 0.6, 0.6, 0.6, 0.5, 0.5, 0.5, 0.6, 0.6, 1.1,
            0.6, 0.5, 0.6, 0.6, 0.5, 0.6, 0.5, 0.5, 0.6, 0.7,
            0.6, 0.7, 0.9, 0.6, 0.6, 0.6, 0.6, 0.8, 0.6, 0.6,
            0.5, 0.7, 0.7, 0.7, 0.7, 0.8, 0.8, 0.6, 0.6, 0.6,
            0.6, 0.6, 0.8, 0.8, 0.7, 0.6, 0.8, 1.0, 0.9, 0.6,
            0.6, 0.9, 0.7]

# tick labels / limits
year_ticks = [2004, 2006, 2008, 2010, 2012, 2014, 2016, 2018, 2020]
backend_labels = [("ASP", 2010.42), ("PUPPI", 2016.30)]


def split_backend(yr, val, err):
    yr = np.asarray(yr, float)
    val = np.asarray(val, float)
    err = np.asarray(err, float)
    m = yr < PUPPI_START
    return (yr[m], val[m], err[m]), (yr[~m], val[~m], err[~m])


def expand_rows(yr, rows, err):
    xs, ys, es = [], [], []
    for y0, row, e in zip(yr, rows, err):
        for r in row:
            xs.append(y0)
            ys.append(r)
            es.append(e)
    return xs, ys, es


def plot_receivers(ax, l_data, s_data, alphas=(0.5, 0.5), l_extra=None, s_extra=None):
    style = dict(fmt="x", ms=6.5, mew=1.6, elinewidth=2.2, capsize=0)
    handles = []
    recs = [(l_data, l_extra, L_COLOR, "L", alphas[0]), (s_data, s_extra, S_COLOR, "S", alphas[1])]
    for data, extra, color, name, alpha in recs:
        asp, puppi = split_backend(*data)
        h1 = ax.errorbar(asp[0], asp[1], yerr=asp[2], color=color, label=f"ASP {name}", alpha=alpha, **style)
        h2 = ax.errorbar(puppi[0], puppi[1], yerr=puppi[2], color=color, label=f"PUPPI {name}",
                         alpha=alpha, **style)
        if extra is not None:
            ax.errorbar(extra[0], extra[1], yerr=extra[2], color=color, alpha=0.5, **style)
        handles += [h1, h2]
    return handles


plt.rcParams["font.family"] = "serif"
plt.rcParams["font.serif"] = ["Liberation Serif", "DejaVu Serif"]
plt.rcParams["mathtext.fontset"] = "stix"
plt.rcParams["axes.linewidth"] = 1.6
plt.rcParams["axes.unicode_minus"] = True
plt.rcParams["axes.formatter.use_mathtext"] = True

YLABEL_SIZE = 15.8

fig = plt.figure(figsize=(2065 / 150, 1404 / 150), dpi=150)
gs = fig.add_gridspec(4, 1, left=0.0891, right=0.9903, top=0.9473, bottom=0.0875, hspace=0)
axes = [fig.add_subplot(gs[0])]
for i in range(1, 4):
    axes.append(fig.add_subplot(gs[i], sharex=axes[0]))
ax1, ax2, ax3, ax4 = axes

# panel 1: DMX
h_wb = ax1.errorbar(dmx_yr, dmx_wb, yerr=dmx_wb_err, fmt="x", color="0.45", ms=6.5, mew=1.6,
                    elinewidth=2.2, capsize=0, alpha=0.45, label="WB DMX", zorder=2)
h_nb = ax1.errorbar(dmx_yr, dmx_nb, yerr=dmx_nb_err, fmt="o", color="k", ms=3.7,
                    elinewidth=2.2, capsize=0, alpha=0.6, label="NB DMX", zorder=3)
ax1.set_ylim(-6, 3.43)
ax1.yaxis.set_major_locator(MultipleLocator(2))
ax1.set_ylabel("NB & WB DMX\n[$10^{-3}$ pc cm$^{-3}$]", fontsize=YLABEL_SIZE)
ax1.legend(handles=[h_nb, h_wb], loc="upper left", fontsize=13, framealpha=0.8,
           edgecolor="0.8", handletextpad=0.8, borderpad=0.5)
for name, xpos in backend_labels:
    ax1.text(xpos, 1.105, name, transform=ax1.get_xaxis_transform(), ha="center", va="center", fontsize=16)
ax1.set_title(PSR, loc="left", fontsize=27, pad=8)

# panel 2: all NB TOAs
l_all = expand_rows(nb_l_yr, nb_l_rows, nb_l_err)
s_all = expand_rows(nb_s_yr, nb_s_rows, nb_s_err)
plot_receivers(ax2, l_all, s_all, alphas=(0.6, 0.8), l_extra=(nb_l_out_yr, nb_l_out, nb_l_out_err),
               s_extra=(nb_s_out_yr, nb_s_out, nb_s_out_err))
ax2.set_ylim(-105.5, 107.5)
ax2.yaxis.set_major_locator(MultipleLocator(50))
ax2.set_ylabel("All NB TOA\nResidual [$\\mu$s]", fontsize=YLABEL_SIZE)

# panel 3: epoch-averaged NB TOAs
plot_receivers(ax3, (avg_l_yr, avg_l, avg_l_err), (avg_s_yr, avg_s, avg_s_err))
ax3.set_ylim(-7.4, 7.47)
ax3.yaxis.set_major_locator(MultipleLocator(5))
ax3.set_ylabel("Avg. NB TOA\nResidual [$\\mu$s]", fontsize=YLABEL_SIZE)

# panel 4: WB TOAs
hs = plot_receivers(ax4, (wb_l_yr, wb_l, wb_l_err), (wb_s_yr, wb_s, wb_s_err))
ax4.set_ylim(-6.43, 5.85)
ax4.yaxis.set_major_locator(MultipleLocator(2.5))
ax4.set_ylabel("All WB TOA\nResidual [$\\mu$s]", fontsize=YLABEL_SIZE)
ax4.legend(handles=hs, loc="lower left", ncol=4, fontsize=13, framealpha=0.8, edgecolor="0.8",
           columnspacing=0.75, handletextpad=0.55, borderpad=0.4, handlelength=1.0)

for ax in axes:
    ax.axhline(0, color="k", ls="--", lw=1.2, zorder=1)
    ax.axvline(PUPPI_START, color="0.35", ls="--", lw=1.1, zorder=1)
    ax.yaxis.set_minor_locator(AutoMinorLocator())
    ax.tick_params(axis="y", which="major", labelsize=14.5, length=7, width=1.2)
    ax.tick_params(axis="y", which="minor", length=4, width=1.0)

for ax in axes[:3]:
    ax.tick_params(axis="x", which="both", bottom=False, labelbottom=False)

ax4.set_xlim(2004, 2020.72)
ax4.set_xticks(year_ticks)
ax4.xaxis.set_minor_locator(MultipleLocator(0.5))
ax4.tick_params(axis="x", which="major", labelsize=15, length=8, width=1.2)
ax4.tick_params(axis="x", which="minor", length=4, width=1.0)
ax4.set_xlabel("Year", fontsize=17, labelpad=8)

fig.savefig("out.png", dpi=150)
